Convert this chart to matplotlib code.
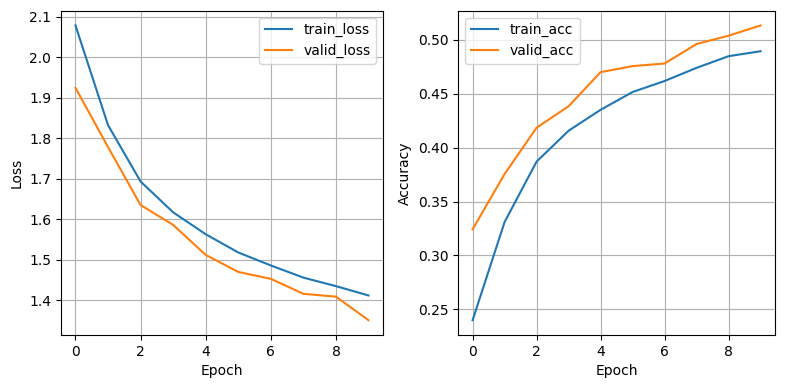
import matplotlib
import matplotlib.pyplot as plt

matplotlib.use("Agg")

epochs = list(range(10))
train_loss = [2.078, 1.832, 1.693, 1.617, 1.563, 1.518, 1.486, 1.456, 1.435, 1.412]
valid_loss = [1.924, 1.778, 1.635, 1.586, 1.512, 1.470, 1.453, 1.416, 1.409, 1.351]
train_acc = [0.240, 0.331, 0.387, 0.4156, 0.435, 0.4515, 0.4617, 0.4739, 0.4847, 0.4893]
valid_acc = [0.3242, 0.3755, 0.4184, 0.4383, 0.4699, 0.4755, 0.4779, 0.496, 0.5037, 0.5132]

fig, (ax1, ax2) = plt.subplots(1, 2, figsize=(7.9, 3.89), dpi=100)

ax1.plot(epochs, train_loss, label="train_loss")
ax1.plot(epochs, valid_loss, label="valid_loss")
ax1.set_xlabel("Epoch")
ax1.set_ylabel("Loss")
ax1.legend()
ax1.grid(True)

ax2.plot(epochs, train_acc, label="train_acc")
ax2.plot(epochs, valid_acc, label="valid_acc")
ax2.set_xlabel("Epoch")
ax2.set_ylabel("Accuracy")
ax2.legend()
ax2.grid(True)

bottom, height = 0.139, 0.9725 - 0.139
ax1.set_position([0.077, bottom, 0.408, height])
ax2.set_position([0.580, bottom, 0.401, height])
fig.savefig("out.png", dpi=100)
